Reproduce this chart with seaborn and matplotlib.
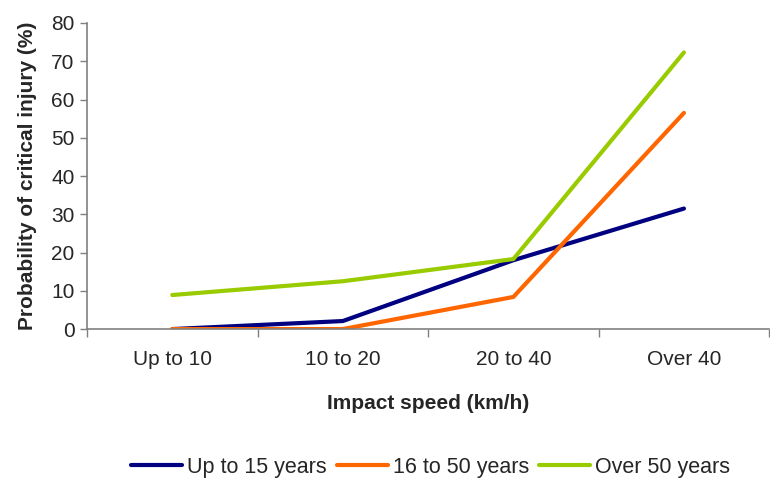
import pandas as pd
import matplotlib
matplotlib.use('Agg')
import matplotlib.pyplot as plt
import seaborn as sns

# Data
speeds = ["Up to 10", "10 to 20", "20 to 40", "Over 40"]
up_to_15 = [0, 2.1, 18.0, 31.5]
age_16_50 = [0, 0, 8.4, 56.5]
over_50 = [8.9, 12.5, 18.3, 72.3]
groups = ["Up to 15 years", "16 to 50 years", "Over 50 years"]
colors = ["#000080", "#FF6600", "#99CC00"]

df = pd.DataFrame({
    "pos": list(range(len(speeds))) * 3,
    "value": up_to_15 + age_16_50 + over_50,
    "group": [g for g in groups for _ in speeds],
})

sns.set_style("white")
plt.rcParams['font.family'] = ['Liberation Sans', 'DejaVu Sans']

fig = plt.figure(figsize=(7.7, 4.79), dpi=100)
ax = fig.add_axes([0.113, 0.313, 0.886, 0.639])

sns.lineplot(data=df, x="pos", y="value", hue="group", hue_order=groups,
             palette=colors, linewidth=3, ax=ax, legend=True)

ax.set_xlim(-0.5, 3.5)
ax.set_ylim(0, 80)
ax.set_yticks(range(0, 81, 10))
ax.set_xticks([-0.5, 0.5, 1.5, 2.5, 3.5])
ax.set_xticklabels([])
ax.set_xticks(range(len(speeds)), minor=True)
ax.set_xticklabels(speeds, minor=True)
ax.tick_params(axis='x', which='major', direction='out', length=6, width=1, color='#808080', bottom=True)
ax.tick_params(axis='x', which='minor', length=0, labelsize=15, pad=15)
ax.tick_params(axis='y', direction='out', length=5, width=1, color='#808080', left=True, labelsize=15, pad=4)

for s in ["top", "right"]:
    ax.spines[s].set_visible(False)
for s in ["left", "bottom"]:
    ax.spines[s].set_color('#808080')
    ax.spines[s].set_linewidth(1.2)

ax.set_xlabel("Impact speed (km/h)", fontsize=15, fontweight='bold', labelpad=18)
ax.set_ylabel("Probability of critical injury (%)", fontsize=15, fontweight='bold', labelpad=10)

ax.legend(loc='center', bbox_to_anchor=(0.5035, -0.451), ncol=3, frameon=False,
          fontsize=15.5, handlelength=2.37, handletextpad=0.23, columnspacing=0.46)

fig.savefig("out.png", dpi=100)
plt.close()
